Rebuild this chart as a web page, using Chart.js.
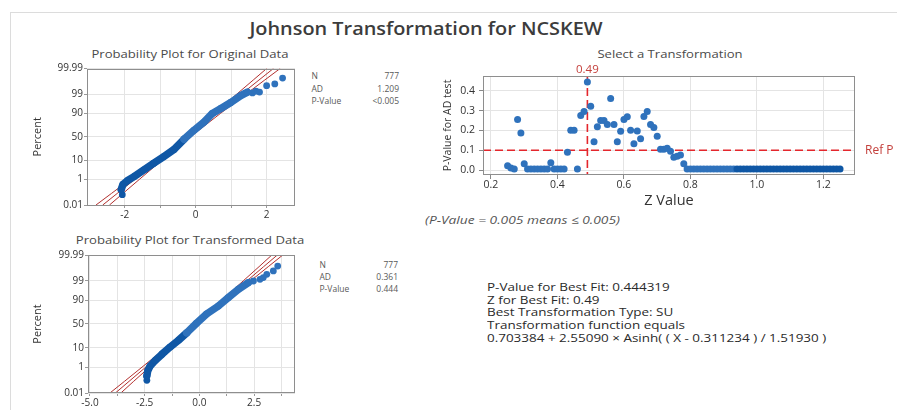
<!DOCTYPE html>
<html><head><meta charset="utf-8">
<script src="https://cdn.jsdelivr.net/npm/chart.js@4.4.1/dist/chart.umd.min.js"></script>
<style>
html,body{margin:0;padding:0;background:#fff;}
body{width:897px;height:410px;position:relative;overflow:hidden;font-family:"Open Sans",sans-serif;}
canvas{position:absolute;}
.t{position:absolute;white-space:nowrap;line-height:1;}
.hl{position:absolute;background:#dcdcdc;}
</style></head><body>
<div class="hl" style="left:10px;top:12px;width:887px;height:1px"></div>
<div class="hl" style="left:10px;top:12px;width:1px;height:398px"></div>

<div class="t" style="left:425.5px;top:19px;font-size:18.5px;font-weight:600;color:#3c3c3c;transform:translateX(-50%) scaleX(1.075)">Johnson Transformation for NCSKEW</div>
<div class="t" style="left:190px;top:47.5px;font-size:11px;color:#4a4a4a;transform:translateX(-50%) scaleX(1.19)">Probability Plot for Original Data</div>
<div class="t" style="left:670px;top:47.5px;font-size:11px;color:#4a4a4a;transform:translateX(-50%) scaleX(1.19)">Select a Transformation</div>
<div class="t" style="left:190px;top:234px;font-size:11px;color:#4a4a4a;transform:translateX(-50%) scaleX(1.19)">Probability Plot for Transformed Data</div>

<div id="stats1"></div>
<div id="stats2"></div>

<div class="t" style="left:425px;top:214px;font-size:11px;font-style:italic;color:#555;transform-origin:0 50%;transform:scaleX(1.25)">(P-Value = 0.005 means ≤ 0.005)</div>
<div id="fitText"></div>

<canvas id="cOrig" width="300" height="185" style="left:0;top:40px"></canvas>
<canvas id="cSel" width="477" height="190" style="left:420px;top:40px"></canvas>
<canvas id="cTrans" width="300" height="180" style="left:0;top:230px"></canvas>

<script>
// ---------------- DATA ----------------
const pctTicks = [0.01, 1, 10, 50, 90, 99, 99.99];
const pctTickLabels = ['0.01', '1', '10', '50', '90', '99', '99.99'];

// Original data probability plot (value, cumulative percent)
const origBodyX   = [-2.10, -2.05, -1.93, -1.74, -1.46, -1.18, -0.90, -0.61, -0.33, -0.05, 0.24, 0.47, 0.71, 0.99, 1.27, 1.46];
const origBodyPct = [0.205, 0.48, 0.82, 1.50, 3.59, 7.49, 14.0, 24.5, 44.4, 63.7, 79.1, 89.8, 93.8, 96.9, 98.75, 99.25];
const origTailX   = [-2.07, 1.60, 1.70, 1.80, 2.00, 2.23, 2.45];
const origTailPct = [0.08, 99.15, 99.35, 99.25, 99.73, 99.80, 99.93];
const origBandPct = [0.01, 0.1, 1, 10, 50, 90, 99, 99.9, 99.99];
const origFitX    = [-2.621, -2.214, -1.720, -1.044, -0.215, 0.614, 1.290, 1.784, 2.191];
const origLowX    = [-2.811, -2.376, -1.850, -1.135, -0.283, 0.523, 1.160, 1.622, 2.001];
const origUpX     = [-2.431, -2.052, -1.590, -0.953, -0.147, 0.705, 1.420, 1.946, 2.381];
const origXTicks  = [-2, -1, 0, 1, 2];
const origXLabels = ['-2', '', '0', '', '2'];
const origStats   = [['N', '777'], ['AD', '1.209'], ['P-Value', '<0.005']];

// Transformed data probability plot
const transBodyX   = [-2.40, -2.36, -2.25, -2.02, -1.72, -1.34, -0.96, -0.58, -0.13, 0.33, 0.87, 1.32, 1.78, 2.24];
const transBodyPct = [0.26, 0.57, 1.19, 2.44, 5.05, 10.7, 18.9, 31.6, 51.6, 70.5, 83.4, 92.2, 96.9, 98.7];
const transTailX   = [-2.40, 2.47, 2.77, 2.92, 3.08, 3.38, 3.58];
const transTailPct = [0.12, 98.98, 99.20, 99.38, 99.63, 99.79, 99.91];
const transBandPct = [0.01, 0.1, 1, 10, 50, 90, 99, 99.9, 99.99];
const transFitX    = [-3.838, -3.213, -2.452, -1.413, -0.138, 1.137, 2.176, 2.937, 3.562];
const transLowX    = [-4.088, -3.423, -2.622, -1.533, -0.228, 1.017, 2.006, 2.727, 3.312];
const transUpX     = [-3.588, -3.003, -2.282, -1.293, -0.048, 1.257, 2.346, 3.147, 3.812];
const transXTicks  = [-5, -3.75, -2.5, -1.25, 0, 1.25, 2.5, 3.75];
const transXLabels = ['-5.0', '', '-2.5', '', '0.0', '', '2.5', ''];
const transStats   = [['N', '777'], ['AD', '0.361'], ['P-Value', '0.444']];

// Select a Transformation: Z value vs P-value for AD test
const zValues = [
  0.25,0.26,0.27,0.28,0.29,0.30,0.31,0.32,0.33,0.34,0.35,0.36,0.37,0.38,0.39,0.40,0.41,0.42,0.43,0.44,
  0.45,0.46,0.47,0.48,0.49,0.50,0.51,0.52,0.53,0.54,0.55,0.56,0.57,0.58,0.59,0.60,0.61,0.62,0.63,0.64,
  0.65,0.66,0.67,0.68,0.69,0.70,0.71,0.72,0.73,0.74,0.75,0.76,0.77,0.78,0.79,0.80,0.81,0.82,0.83,0.84,
  0.85,0.86,0.87,0.88,0.89,0.90,0.91,0.92,0.93,0.94,0.95,0.96,0.97,0.98,0.99,1.00,1.01,1.02,1.03,1.04,
  1.05,1.06,1.07,1.08,1.09,1.10,1.11,1.12,1.13,1.14,1.15,1.16,1.17,1.18,1.19,1.20,1.21,1.22,1.23,1.24,
  1.25];
const pValues = [
  0.022,0.010,0.005,0.255,0.187,0.032,0.005,0.005,0.005,0.005,0.005,0.005,0.005,0.037,0.005,0.005,0.005,0.005,0.090,0.200,
  0.200,0.005,0.275,0.295,0.444,0.322,0.143,0.218,0.250,0.250,0.230,0.360,0.230,0.143,0.195,0.255,0.268,0.200,0.132,0.197,
  0.158,0.270,0.295,0.230,0.215,0.170,0.105,0.105,0.110,0.095,0.065,0.070,0.076,0.032,0.005,0.005,0.005,0.005,0.005,0.005,
  0.005,0.005,0.005,0.005,0.005,0.005,0.005,0.005,0.005,0.005,0.005,0.005,0.005,0.005,0.005,0.005,0.005,0.005,0.005,0.005,
  0.005,0.005,0.005,0.005,0.005,0.005,0.005,0.005,0.005,0.005,0.005,0.005,0.005,0.005,0.005,0.005,0.005,0.005,0.005,0.005,
  0.005];
const selXTicks = [0.2, 0.4, 0.6, 0.8, 1.0, 1.2];
const selYTicks = [0.0, 0.1, 0.2, 0.3, 0.4];
const bestZ = 0.49;
const refP = 0.1;

const fitLines = [
  'P-Value for Best Fit: 0.444319',
  'Z for Best Fit: 0.49',
  'Best Transformation Type: SU',
  'Transformation function equals',
  '0.703384 + 2.55090 \u00d7 Asinh( ( X - 0.311234 ) / 1.51930 )'
];

// ---------------- HELPERS ----------------
// Inverse standard normal CDF (probability-axis transform), Acklam
function probit(pct) {
  const p = pct / 100;
  const a = [-3.969683028665376e+01, 2.209460984245205e+02, -2.759285104469687e+02, 1.383577518672690e+02, -3.066479806614716e+01, 2.506628277459239e+00];
  const b = [-5.447609879822406e+01, 1.615858368580409e+02, -1.556989798598866e+02, 6.680131188771972e+01, -1.328068155288572e+01];
  const c = [-7.784894002430293e-03, -3.223964580411365e-01, -2.400758277161838e+00, -2.549671010243172e+00, 4.374664141464968e+00, 2.938163982698783e+00];
  const d = [7.784695709041462e-03, 3.224671290700398e-01, 2.445134137142996e+00, 3.754408661907416e+00];
  const pl = 0.02425, ph = 1 - pl;
  let q, r;
  if (p < pl) { q = Math.sqrt(-2 * Math.log(p)); return (((((c[0]*q+c[1])*q+c[2])*q+c[3])*q+c[4])*q+c[5]) / ((((d[0]*q+d[1])*q+d[2])*q+d[3])*q+1); }
  if (p <= ph) { q = p - 0.5; r = q*q; return (((((a[0]*r+a[1])*r+a[2])*r+a[3])*r+a[4])*r+a[5])*q / (((((b[0]*r+b[1])*r+b[2])*r+b[3])*r+b[4])*r+1); }
  q = Math.sqrt(-2 * Math.log(1 - p));
  return -(((((c[0]*q+c[1])*q+c[2])*q+c[3])*q+c[4])*q+c[5]) / ((((d[0]*q+d[1])*q+d[2])*q+d[3])*q+1);
}
const pts = (xs, ps) => xs.map((x, i) => ({ x: x, y: probit(ps[i]) }));

const BLUE = '#2f72bc', DARK = '#0f57a5', CI = '#b3302f', REF = '#e4262c', GRID = '#e4e4e4', FRAME = '#8e8e8e';
Chart.defaults.font.family = '"Open Sans", sans-serif';
Chart.defaults.color = '#333';

const framePlugin = {
  id: 'frame',
  afterDraw(chart) {
    const a = chart.chartArea, ctx = chart.ctx;
    ctx.save(); ctx.strokeStyle = FRAME; ctx.lineWidth = 1;
    ctx.strokeRect(Math.round(a.left) + 0.5, Math.round(a.top) + 0.5, Math.round(a.right - a.left) - 1, Math.round(a.bottom - a.top) - 1);
    ctx.restore();
  }
};

function statsBlock(el, rows, left, right, tops) {
  let h = '';
  rows.forEach((r, i) => {
    h += '<div class="t" style="left:' + left + 'px;top:' + tops[i] + 'px;font-size:8.5px;color:#5a5a5a">' + r[0] + '</div>';
    h += '<div class="t" style="right:' + (897 - right) + 'px;top:' + tops[i] + 'px;font-size:8.5px;color:#5a5a5a">' + r[1] + '</div>';
  });
  document.getElementById(el).innerHTML = h;
}
statsBlock('stats1', origStats, 311.5, 399, [71.5, 84.8, 97.2]);
statsBlock('stats2', transStats, 319.5, 398, [260.5, 273.2, 284.5]);
document.getElementById('fitText').innerHTML = fitLines.map((s, i) =>
  '<div class="t" style="left:487px;top:' + [280.6, 293.9, 306.2, 318.9, 332.2][i] +
  'px;font-size:11.5px;color:#2a2a2a;transform-origin:0 50%;transform:scaleX(1.17)">' + s + '</div>').join('');

function probPlot(id, o) {
  return new Chart(document.getElementById(id), {
    type: 'scatter',
    data: {
      datasets: [
        { data: pts(o.bodyX, o.bodyPct), showLine: true, borderWidth: 7.5, borderCapStyle: 'round', borderJoinStyle: 'round',
          segment: { borderColor: c => c.p0.parsed.x < o.darkBelow ? DARK : BLUE },
          pointRadius: 3.4, pointBorderWidth: 0,
          pointBackgroundColor: c => (c.raw && c.raw.x < o.darkBelow) ? DARK : BLUE, order: 0 },
        { data: pts(o.tailX, o.tailPct), showLine: false, pointRadius: 3.4, pointBorderWidth: 0,
          pointBackgroundColor: c => (c.raw && c.raw.x < o.darkBelow) ? DARK : BLUE, order: 0 },
        { data: pts(o.fitX, o.bandPct), showLine: true, borderColor: CI, borderWidth: 1, pointRadius: 0, order: 1 },
        { data: pts(o.lowX, o.bandPct), showLine: true, borderColor: CI, borderWidth: 1, pointRadius: 0, order: 1 },
        { data: pts(o.upX, o.bandPct), showLine: true, borderColor: CI, borderWidth: 1, pointRadius: 0, order: 1 }
      ]
    },
    options: {
      responsive: false, animation: false, events: [],
      layout: { padding: o.pad },
      plugins: { legend: { display: false }, tooltip: { enabled: false } },
      scales: {
        x: { type: 'linear', min: o.xMin, max: o.xMax,
          afterBuildTicks: s => { s.ticks = o.xTicks.map(v => ({ value: v })); },
          afterFit: s => { s.height = o.xH; },
          ticks: { callback: (v, i) => o.xLabels[i], autoSkip: false, maxRotation: 0, font: { size: 10 }, color: '#333', padding: 1 },
          grid: { color: GRID, tickColor: '#999', tickLength: 3 },
          border: { display: false } },
        y: { type: 'linear', min: probit(0.01), max: probit(99.99),
          afterBuildTicks: s => { s.ticks = pctTicks.map(p => ({ value: probit(p) })); },
          afterFit: s => { s.width = o.yW; },
          ticks: { callback: (v, i) => pctTickLabels[i], autoSkip: false, font: { size: 10 }, color: '#333', padding: 1 },
          grid: { color: GRID, tickColor: '#999', tickLength: 3 },
          border: { display: false },
          title: { display: true, text: 'Percent', font: { size: 11 }, color: '#333' } }
      }
    },
    plugins: [framePlugin]
  });
}

probPlot('cOrig', { bodyX: origBodyX, bodyPct: origBodyPct, tailX: origTailX, tailPct: origTailPct,
  fitX: origFitX, lowX: origLowX, upX: origUpX, bandPct: origBandPct, darkBelow: -0.5,
  xMin: -3.065, xMax: 2.8, xTicks: origXTicks, xLabels: origXLabels,
  pad: { left: 27, top: 28.5, right: 5, bottom: 0 }, yW: 60, xH: 20 });

probPlot('cTrans', { bodyX: transBodyX, bodyPct: transBodyPct, tailX: transTailX, tailPct: transTailPct,
  fitX: transFitX, lowX: transLowX, upX: transUpX, bandPct: transBandPct, darkBelow: -0.8,
  xMin: -5.09, xMax: 4.37, xTicks: transXTicks, xLabels: transXLabels,
  pad: { left: 27, top: 25, right: 5, bottom: 0 }, yW: 61, xH: 17 });

const refPlugin = {
  id: 'refs',
  beforeDatasetsDraw(chart) {
    const { ctx, chartArea: a, scales: { x, y } } = chart;
    const px = x.getPixelForValue(bestZ), py = y.getPixelForValue(refP);
    ctx.save(); ctx.strokeStyle = REF; ctx.lineWidth = 1.6; ctx.setLineDash([8, 4]);
    ctx.beginPath(); ctx.moveTo(px, a.top); ctx.lineTo(px, a.bottom);
    ctx.moveTo(a.left, py); ctx.lineTo(a.right, py); ctx.stroke(); ctx.restore();
  },
  afterDraw(chart) {
    const { ctx, chartArea: a, scales: { x, y } } = chart;
    const px = x.getPixelForValue(bestZ), py = y.getPixelForValue(refP);
    ctx.save(); ctx.fillStyle = '#c4403c';
    ctx.textBaseline = 'middle';
    ctx.font = '11.5px "Open Sans", sans-serif';
    ctx.textAlign = 'center';
    ctx.fillText(bestZ.toFixed(2), px, a.top - 6);
    ctx.font = '12px "Open Sans", sans-serif';
    ctx.textAlign = 'left';
    ctx.fillText('Ref P', a.right + 10, py);
    ctx.restore();
  }
};

new Chart(document.getElementById('cSel'), {
  type: 'scatter',
  data: { datasets: [{
    data: zValues.map((z, i) => ({ x: z, y: pValues[i] })),
    pointRadius: 3.5, pointBorderWidth: 0,
    pointBackgroundColor: c => (c.raw && c.raw.x >= 0.94) ? DARK : BLUE
  }] },
  options: {
    responsive: false, animation: false, events: [],
    layout: { padding: { left: 17.4, top: 36, right: 42, bottom: 16.2 } },
    plugins: { legend: { display: false }, tooltip: { enabled: false } },
    scales: {
      x: { type: 'linear', min: 0.176, max: 1.295,
        afterBuildTicks: s => { s.ticks = selXTicks.map(v => ({ value: v })); },
        afterFit: s => { s.height = 38.8; },
        ticks: { callback: v => v.toFixed(1), autoSkip: false, maxRotation: 0, font: { size: 10.5 }, color: '#333', padding: 0 },
        grid: { color: GRID, tickColor: '#888', tickLength: 4 },
        border: { display: false },
        title: { display: true, text: 'Z Value', font: { size: 14.5 }, color: '#333' } },
      y: { type: 'linear', min: -0.025, max: 0.474,
        afterBuildTicks: s => { s.ticks = selYTicks.map(v => ({ value: v })); },
        afterFit: s => { s.width = 45.6; },
        ticks: { callback: v => v.toFixed(1), autoSkip: false, font: { size: 10.5 }, color: '#333', padding: 4 },
        grid: { color: GRID, tickColor: '#888', tickLength: 4 },
        border: { display: false },
        title: { display: true, text: 'P-Value for AD test', font: { size: 10.5 }, color: '#333' } }
    }
  },
  plugins: [framePlugin, refPlugin]
});
</script>
</body></html>
